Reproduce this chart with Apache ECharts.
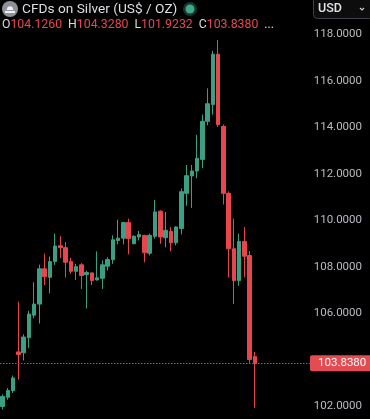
<!DOCTYPE html>
<html>
<head>
<meta charset="utf-8">
<script src="https://cdn.jsdelivr.net/npm/echarts@6/dist/echarts.min.js"></script>
<style>
html,body{margin:0;padding:0;background:#000;}
#c{width:370px;height:419px;}
</style>
</head>
<body>
<div id="c"></div>
<script>
// ---- data ----
var opens  = [101.98,102.38,102.66,104.33,104.29,104.94,105.91,106.39,107.91,107.54,
              108.22,108.90,108.82,108.22,107.80,108.08,107.66,107.73,107.43,107.50,
              108.02,108.30,109.13,109.23,109.90,108.99,109.28,109.35,108.58,109.31,
              110.39,109.25,109.52,109.03,109.64,111.16,111.91,112.12,112.62,114.26,
              114.98,117.15,114.04,111.16,108.77,107.40,109.09,108.48,104.126];
var closes = [102.41,102.67,103.21,104.22,104.97,105.96,106.39,107.91,107.57,108.22,
              108.89,108.82,108.19,107.80,108.00,107.62,107.75,107.40,107.52,108.08,
              108.31,109.16,109.23,109.90,109.21,109.31,109.38,108.60,109.35,110.36,
              109.28,109.57,109.03,109.71,111.23,111.92,112.12,112.67,114.26,115.02,
              117.15,114.12,111.16,108.77,107.40,109.09,108.45,104.00,103.838];
var lows   = [101.85,102.27,102.56,103.14,103.96,104.51,105.78,105.55,107.21,106.85,
              108.08,108.37,107.54,107.69,107.43,107.04,106.20,107.21,107.40,107.04,
              107.83,108.12,108.96,108.96,108.53,108.96,109.13,108.19,108.48,109.21,
              108.99,108.84,108.66,108.92,109.39,110.62,110.53,111.81,112.24,114.09,
              114.55,114.02,110.68,107.54,106.39,107.18,107.54,103.86,101.9232];
var highs  = [102.50,102.77,103.31,106.49,105.09,106.10,107.33,108.09,108.56,108.44,
              109.42,109.31,109.06,108.38,108.12,108.15,107.83,107.76,108.66,108.27,
              108.41,109.35,110.03,109.93,110.07,109.35,109.54,109.35,109.42,110.87,
              110.43,110.36,109.71,109.74,111.37,112.38,112.38,113.68,114.55,115.68,
              117.30,117.76,114.12,111.24,110.07,109.42,109.71,108.67,104.328];
var yTickLabels = [102,106,108,110,112,114,116,118];
var lastPrice = 103.838;
var ohlc = {O:'104.1260', H:'104.3280', L:'101.9232', C:'103.8380'};
var titleText = 'CFDs on Silver (US$ / OZ)';
var padCount = 10; // empty slots right of the last bar

var categories = [];
var candleData = [];
for (var i = 0; i < opens.length; i++) {
  categories.push('b' + i);
  candleData.push([opens[i], closes[i], lows[i], highs[i]]);
}
for (var j = 0; j < padCount; j++) { categories.push('p' + j); candleData.push('-'); }

var UP = '#3a9f83', DOWN = '#e8464f';
var FONT = 'Roboto, "Noto Sans", sans-serif';

var chart = echarts.init(document.getElementById('c'), null, {renderer:'canvas'});
chart.setOption({
  backgroundColor: '#000000',
  animation: false,
  grid: {left: -1, right: 60, top: 0, bottom: 0, containLabel: false},
  xAxis: {
    type: 'category', data: categories, boundaryGap: true,
    axisLine: {show:false}, axisTick: {show:false}, axisLabel: {show:false}, splitLine: {show:false}
  },
  yAxis: {
    type: 'value', position: 'right', min: 101.44, max: 119.486, scale: true,
    axisLine: {show:false}, axisTick: {show:false}, splitLine: {show:false},
    axisLabel: {
      customValues: yTickLabels, align: 'right', margin: 52,
      color: '#b8bbc2', fontSize: 11.5, fontFamily: FONT,
      formatter: function (v) { return v.toFixed(4); }
    }
  },
  series: [{
    type: 'candlestick',
    data: candleData,
    barWidth: 4,
    itemStyle: {color: UP, color0: DOWN, borderColor: UP, borderColor0: DOWN, borderWidth: 1},
    markLine: {
      silent: true, symbol: ['none','none'],
      lineStyle: {color: '#d2434b', type: [1.5,1.5], width: 1, opacity: 1},
      label: {
        show: true, position: 'end', distance: 0,
        formatter: lastPrice.toFixed(4),
        color: '#ffffff', fontSize: 11.5, fontFamily: FONT,
        backgroundColor: '#e24c52', padding: [2,5,2,8], borderRadius: 2
      },
      data: [{yAxis: lastPrice}]
    }
  }],
  graphic: [
    {type:'circle', shape:{cx:10, cy:9, r:8}, style:{fill:'#8e9199'}},
    {type:'polygon', shape:{points:[[6.5,10],[13.5,10],[12,6.5],[8,6.5]]}, style:{fill:'#f0f0f0'}},
    {type:'rect', shape:{x:5, y:11, width:10, height:2}, style:{fill:'#f0f0f0'}},
    {type:'text', x:22, y:10, style:{text:titleText, fill:'#dcdee3', font:'13.7px ' + FONT, verticalAlign:'middle'}},
    {type:'circle', shape:{cx:190, cy:9, r:7}, style:{fill:'#17352c'}},
    {type:'circle', shape:{cx:190, cy:9, r:4.5}, style:{fill:'#3fa888'}},
    {type:'text', x:2, y:25, style:{
      text: '{k|O}{v|' + ohlc.O + '}{s| }{k|H}{v|' + ohlc.H + '}{s| }{k|L}{v|' + ohlc.L + '}{s| }{k|C}{v|' + ohlc.C + '}{s| }{k|...}',
      verticalAlign:'middle',
      rich: {
        k: {fill:'#d9dbe0', font:'12.3px ' + FONT},
        v: {fill:'#e5484f', font:'12.3px ' + FONT},
        s: {font:'12.3px ' + FONT, width: 6}
      }
    }},
    {type:'rect', shape:{x:313.5, y:-4.5, width:60, height:23, r:4}, style:{fill:'#0d0d0d', stroke:'#3e4049', lineWidth:1}},
    {type:'text', x:318, y:9, style:{text:'USD', fill:'#e0e2e6', font:'500 12.5px ' + FONT, verticalAlign:'middle'}},
    {type:'polyline', shape:{points:[[360,8],[362,10],[364,8]]}, style:{stroke:'#c9ccd2', lineWidth:1.2, fill:null}}
  ]
});
</script>
</body>
</html>
